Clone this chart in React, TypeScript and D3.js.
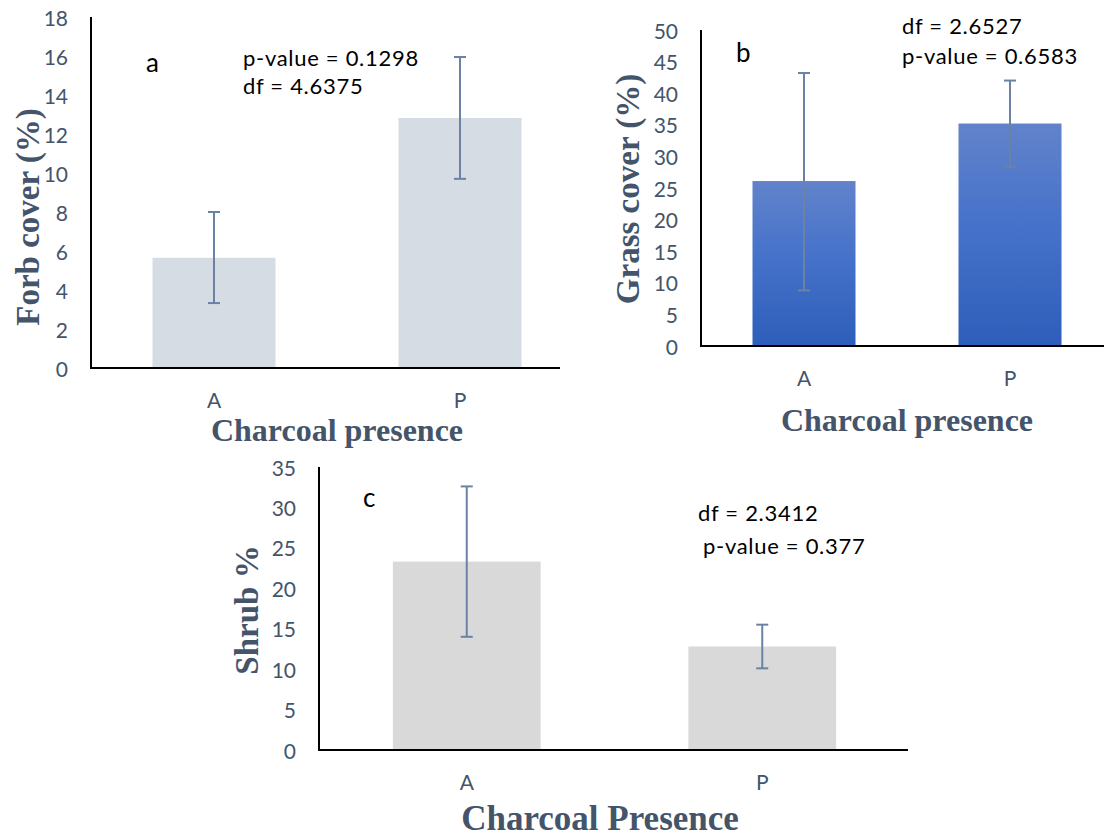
import React from 'react';
import * as d3 from 'd3';

// categories shared by all three panels
const categories = ['A', 'P'];

// panel a: forb cover
const forbMean = [5.65, 12.82];
const forbHigh = [8.0, 15.95];
const forbLow = [3.33, 9.7];
const forbTicks = [0, 2, 4, 6, 8, 10, 12, 14, 16, 18];

// panel b: grass cover
const grassMean = [26.1, 35.2];
const grassHigh = [43.2, 42.0];
const grassLow = [8.8, 28.4];
const grassTicks = [0, 5, 10, 15, 20, 25, 30, 35, 40, 45, 50];

// panel c: shrub
const shrubMean = [23.3, 12.8];
const shrubHigh = [32.6, 15.5];
const shrubLow = [14.0, 10.1];
const shrubTicks = [0, 5, 10, 15, 20, 25, 30, 35];

const TICK_FONT = 'Lato, "Noto Sans", sans-serif';
const TITLE_FONT = '"Liberation Serif", "Times New Roman", serif';
const SLATE = '#44546A';
const ERR = '#6A83A5';

type PanelProps = {
	left: number;
	right: number;
	top: number;
	zero: number;
	axisEnd: number;
	ticks: number[];
	mean: number[];
	high: number[];
	low: number[];
	fill: string;
	xTitle: string;
	yTitle: string;
	xTitleX: number;
	xTitleY: number;
	xTitleSize: number;
	yTitleX: number;
	yTitleY: number;
};

function Panel(p: PanelProps) {
	const y = d3.scaleLinear()
		.domain([0, d3.max(p.ticks) as number])
		.range([p.zero, p.top]);
	const x = d3.scaleBand()
		.domain(categories)
		.range([p.left, p.right])
		.paddingInner(0.5)
		.paddingOuter(0.25);
	const bw = x.bandwidth();

	return (
		<g>
			{categories.map((c, i) => (
				<rect
					key={`bar-${c}`}
					x={x(c)}
					y={y(p.mean[i])}
					width={bw}
					height={p.zero - y(p.mean[i])}
					fill={p.fill}
				/>
			))}
			{categories.map((c, i) => {
				const cx = (x(c) as number) + bw / 2;
				return (
					<g key={`err-${c}`} stroke={ERR} strokeWidth={2}>
						<line x1={cx} x2={cx} y1={y(p.high[i])} y2={y(p.low[i])} />
						<line x1={cx - 6} x2={cx + 6} y1={y(p.high[i])} y2={y(p.high[i])} />
						<line x1={cx - 6} x2={cx + 6} y1={y(p.low[i])} y2={y(p.low[i])} />
					</g>
				);
			})}
			{/* axes */}
			<line x1={p.left} x2={p.left} y1={p.top} y2={p.zero + 1} stroke="#000" strokeWidth={2} />
			<line x1={p.left - 1} x2={p.axisEnd} y1={p.zero} y2={p.zero} stroke="#000" strokeWidth={2.2} />
			{p.ticks.map((t) => (
				<text
					key={`t-${t}`}
					x={p.left - 23}
					y={y(t)}
					textAnchor="end"
					dominantBaseline="central"
					fontFamily={TICK_FONT}
					fontSize={21}
					fill={SLATE}
				>
					{t}
				</text>
			))}
			{categories.map((c) => (
				<text
					key={`c-${c}`}
					x={(x(c) as number) + bw / 2}
					y={p.zero + 31}
					textAnchor="middle"
					dominantBaseline="central"
					fontFamily={TICK_FONT}
					fontSize={21}
					fill={SLATE}
				>
					{c}
				</text>
			))}
			<text
				x={p.xTitleX}
				y={p.xTitleY}
				textAnchor="middle"
				dominantBaseline="central"
				fontFamily={TITLE_FONT}
				fontWeight="bold"
				fontSize={p.xTitleSize}
				fill={SLATE}
			>
				{p.xTitle}
			</text>
			<text
				transform={`translate(${p.yTitleX},${p.yTitleY}) rotate(-90)`}
				textAnchor="middle"
				dominantBaseline="central"
				fontFamily={TITLE_FONT}
				fontWeight="bold"
				fontSize={33}
				fill={SLATE}
			>
				{p.yTitle}
			</text>
		</g>
	);
}

function Note({ x, y, children, size = 22 }: { x: number; y: number; children: React.ReactNode; size?: number }) {
	return (
		<text
			x={x}
			y={y}
			dominantBaseline="central"
			fontFamily={TICK_FONT}
			fontSize={size}
			letterSpacing={0.7}
			fill="#000"
		>
			{children}
		</text>
	);
}

export default function App() {
	return (
		<svg
			width={1104}
			height={839}
			style={{ position: 'absolute', left: 0, top: 0, background: '#fff' }}
		>
			<defs>
				<linearGradient id="grassFill" x1="0" y1="0" x2="0" y2="1">
					<stop offset="0%" stopColor="#6283CB" />
					<stop offset="45%" stopColor="#4672CA" />
					<stop offset="100%" stopColor="#2D5EB9" />
				</linearGradient>
			</defs>

			<Panel
				left={91}
				right={583}
				top={17}
				zero={368}
				axisEnd={560}
				ticks={forbTicks}
				mean={forbMean}
				high={forbHigh}
				low={forbLow}
				fill="#D5DCE4"
				xTitle="Charcoal presence"
				yTitle="Forb cover (%)"
				xTitleX={337}
				xTitleY={430}
				xTitleSize={32}
				yTitleX={28}
				yTitleY={217}
			/>
			<Note x={146} y={62} size={26}>a</Note>
			<Note x={243} y={57}>p-value = 0.1298</Note>
			<Note x={243} y={85}>df = 4.6375</Note>

			<Panel
				left={701}
				right={1113}
				top={30}
				zero={346}
				axisEnd={1104}
				ticks={grassTicks}
				mean={grassMean}
				high={grassHigh}
				low={grassLow}
				fill="url(#grassFill)"
				xTitle="Charcoal presence"
				yTitle="Grass cover (%)"
				xTitleX={907}
				xTitleY={420}
				xTitleSize={32}
				yTitleX={628}
				yTitleY={189}
			/>
			<Note x={736} y={52} size={26}>b</Note>
			<Note x={902} y={25}>df = 2.6527</Note>
			<Note x={902} y={55}>p-value = 0.6583</Note>

			<Panel
				left={319}
				right={910}
				top={467}
				zero={750}
				axisEnd={908}
				ticks={shrubTicks}
				mean={shrubMean}
				high={shrubHigh}
				low={shrubLow}
				fill="#D9D9D9"
				xTitle="Charcoal Presence"
				yTitle="Shrub %"
				xTitleX={600}
				xTitleY={818}
				xTitleSize={35}
				yTitleX={247}
				yTitleY={610}
			/>
			<Note x={363} y={497} size={26}>c</Note>
			<Note x={698} y={512}>df = 2.3412</Note>
			<Note x={703} y={545}>p-value = 0.377</Note>
		</svg>
	);
}
